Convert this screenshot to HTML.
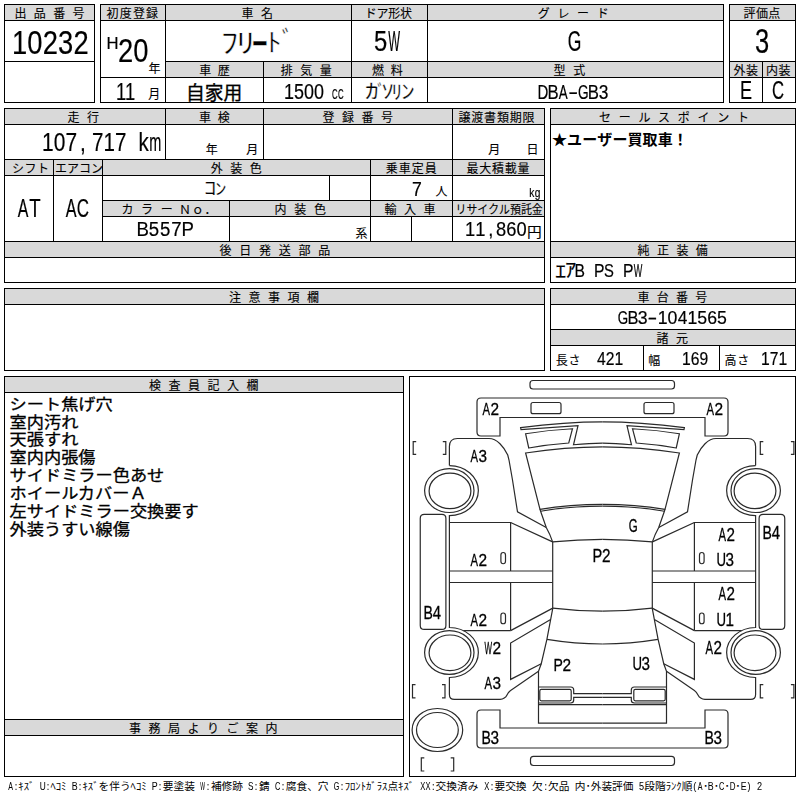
<!DOCTYPE html>
<html lang="ja"><head><meta charset="utf-8"><title>Auction sheet</title>
<style>
html,body{margin:0;padding:0;background:#fff}
body{width:800px;height:800px;position:relative;overflow:hidden;font-family:"Liberation Sans",sans-serif;color:#000}
svg.bg{position:absolute;left:0;top:0}
.t{position:absolute;white-space:nowrap;transform-origin:0 0;display:flex;filter:grayscale(1)}
.t i{font-style:normal;display:flex;justify-content:center;flex:none}
</style></head><body>
<svg class="bg" width="800" height="800" viewBox="0 0 800 800">
<g shape-rendering="crispEdges">
<rect x="5" y="5" width="89" height="15" fill="#d9d9d9"/>
<rect x="4" y="4" width="91" height="1"/>
<rect x="4" y="102" width="91" height="1"/>
<rect x="4" y="4" width="1" height="99"/>
<rect x="94" y="4" width="1" height="99"/>
<rect x="4" y="20" width="91" height="1"/>
<rect x="4" y="61" width="91" height="1"/>
<rect x="101" y="5" width="622" height="15" fill="#d9d9d9"/>
<rect x="166" y="62" width="557" height="15" fill="#d9d9d9"/>
<rect x="100" y="4" width="624" height="1"/>
<rect x="100" y="102" width="624" height="1"/>
<rect x="100" y="4" width="1" height="99"/>
<rect x="723" y="4" width="1" height="99"/>
<rect x="100" y="20" width="624" height="1"/>
<rect x="165" y="61" width="559" height="1"/>
<rect x="100" y="77" width="624" height="1"/>
<rect x="165" y="4" width="1" height="99"/>
<rect x="351" y="4" width="1" height="99"/>
<rect x="427" y="4" width="1" height="99"/>
<rect x="263" y="61" width="1" height="42"/>
<rect x="730" y="5" width="65" height="15" fill="#d9d9d9"/>
<rect x="730" y="62" width="65" height="15" fill="#d9d9d9"/>
<rect x="729" y="4" width="67" height="1"/>
<rect x="729" y="102" width="67" height="1"/>
<rect x="729" y="4" width="1" height="99"/>
<rect x="795" y="4" width="1" height="99"/>
<rect x="729" y="20" width="67" height="1"/>
<rect x="729" y="61" width="67" height="1"/>
<rect x="729" y="77" width="67" height="1"/>
<rect x="762" y="61" width="1" height="42"/>
<rect x="5" y="109" width="539" height="15" fill="#d9d9d9"/>
<rect x="5" y="160" width="539" height="15" fill="#d9d9d9"/>
<rect x="103" y="201" width="441" height="15" fill="#d9d9d9"/>
<rect x="5" y="242" width="539" height="15" fill="#d9d9d9"/>
<rect x="4" y="108" width="541" height="1"/>
<rect x="4" y="282" width="541" height="1"/>
<rect x="4" y="108" width="1" height="175"/>
<rect x="544" y="108" width="1" height="175"/>
<rect x="4" y="124" width="541" height="1"/>
<rect x="4" y="159" width="541" height="1"/>
<rect x="4" y="175" width="541" height="1"/>
<rect x="102" y="200" width="443" height="1"/>
<rect x="102" y="216" width="443" height="1"/>
<rect x="4" y="241" width="541" height="1"/>
<rect x="4" y="257" width="541" height="1"/>
<rect x="165" y="108" width="1" height="52"/>
<rect x="263" y="108" width="1" height="52"/>
<rect x="452" y="108" width="1" height="134"/>
<rect x="53" y="159" width="1" height="83"/>
<rect x="102" y="159" width="1" height="83"/>
<rect x="370" y="159" width="1" height="83"/>
<rect x="329" y="175" width="1" height="26"/>
<rect x="229" y="200" width="1" height="42"/>
<rect x="411" y="216" width="1" height="26"/>
<rect x="551" y="109" width="244" height="15" fill="#d9d9d9"/>
<rect x="551" y="242" width="244" height="15" fill="#d9d9d9"/>
<rect x="550" y="108" width="246" height="1"/>
<rect x="550" y="282" width="246" height="1"/>
<rect x="550" y="108" width="1" height="175"/>
<rect x="795" y="108" width="1" height="175"/>
<rect x="550" y="124" width="246" height="1"/>
<rect x="550" y="241" width="246" height="1"/>
<rect x="550" y="257" width="246" height="1"/>
<rect x="5" y="289" width="539" height="15" fill="#d9d9d9"/>
<rect x="4" y="288" width="541" height="1"/>
<rect x="4" y="370" width="541" height="1"/>
<rect x="4" y="288" width="1" height="83"/>
<rect x="544" y="288" width="1" height="83"/>
<rect x="4" y="304" width="541" height="1"/>
<rect x="551" y="289" width="244" height="15" fill="#d9d9d9"/>
<rect x="551" y="330" width="244" height="15" fill="#d9d9d9"/>
<rect x="550" y="288" width="246" height="1"/>
<rect x="550" y="370" width="246" height="1"/>
<rect x="550" y="288" width="1" height="83"/>
<rect x="795" y="288" width="1" height="83"/>
<rect x="550" y="304" width="246" height="1"/>
<rect x="550" y="329" width="246" height="1"/>
<rect x="550" y="345" width="246" height="1"/>
<rect x="643" y="345" width="1" height="26"/>
<rect x="719" y="345" width="1" height="26"/>
<rect x="5" y="377" width="398" height="15" fill="#d9d9d9"/>
<rect x="5" y="720" width="398" height="15" fill="#d9d9d9"/>
<rect x="4" y="376" width="400" height="1"/>
<rect x="4" y="776" width="400" height="1"/>
<rect x="4" y="376" width="1" height="401"/>
<rect x="403" y="376" width="1" height="401"/>
<rect x="4" y="392" width="400" height="1"/>
<rect x="4" y="719" width="400" height="1"/>
<rect x="4" y="735" width="400" height="1"/>
<rect x="409" y="376" width="387" height="1"/>
<rect x="409" y="776" width="387" height="1"/>
<rect x="409" y="376" width="1" height="401"/>
<rect x="795" y="376" width="1" height="401"/>
</g>
<g font-family="&quot;Liberation Sans&quot;, &quot;Noto Sans CJK JP&quot;, sans-serif" fill="#000">
<g font-size="12" stroke="#000" stroke-width="0.1">
<text x="14.5 33.83 53.16 72.49" y="17.56">出品番号</text>
<text x="106.5 119.7 132.9 146.1" y="17.56">初度登録</text>
<text x="241.5 261" y="17.56">車名</text>
<text x="364.7 376.5 388.3 400.1" y="17.56">ドア形状</text>
<text x="537.7 557.4 577.1 596.8" y="17.56">グレード</text>
<text x="743.5 755.9 768.3" y="17.56">評価点</text>
<text x="199.2 217.7" y="74.56">車歴</text>
<text x="280.75 300.25 319.75" y="74.56">排気量</text>
<text x="372 390.75" y="74.56">燃料</text>
<text x="553.5 573.2" y="74.56">型式</text>
<text x="733.5 746" y="74.56">外装</text>
<text x="766 778.5" y="74.56">内装</text>
<text x="67.5 87" y="121.56">走行</text>
<text x="199 217.7" y="121.56">車検</text>
<text x="322.5 342 361.5 381" y="121.56">登録番号</text>
<text x="458.5 471.3 484.1 496.9 509.7 522.5" y="121.56">譲渡書類期限</text>
<text x="599 618.7 638.4 658.1 677.8 697.5 717.2 736.9" y="121.56">セールスポイント</text>
<text x="12 24.5 37" y="172.56">シフト</text>
<text x="55 67 79 91" y="172.56">エアコン</text>
<text x="210.75 230.25 249.75" y="172.56">外装色</text>
<text x="385.75 398.75 411.75 424.75" y="172.56">乗車定員</text>
<text x="466.5 479.25 492 504.75 517.5" y="172.56">最大積載量</text>
<text x="121.4 141.1 160.8" y="213.56">カラー</text>
<text x="179 191.7 204.4" y="213.56">Ｎｏ．</text>
<text x="274.5 294.2 313.9" y="213.56">内装色</text>
<text x="384.5 404 423.5" y="213.56">輸入車</text>
<text transform="translate(455.5 213.56) scale(0.91 1)" x="0 11.978 23.956 35.934 47.912 59.89 71.868 83.846" y="0">リサイクル預託金</text>
<text x="219.5 239.25 259 278.75 298.5 318.25" y="254.56">後日発送部品</text>
<text x="637.6 657 676.4 695.8" y="254.56">純正装備</text>
<text x="229 248.5 268 287.5 307" y="301.56">注意事項欄</text>
<text x="637.6 656.8 676 695.2" y="301.56">車台番号</text>
<text x="656.5 676" y="342.56">諸元</text>
<text x="149 168.5 188 207.5 227 246.5" y="389.56">検査員記入欄</text>
<text x="129 148.5 168 187.5 207 226.5 246 265.5" y="732.56">事務局よりご案内</text>
<text x="148.5" y="73.36">年</text>
<text transform="translate(148.3 98.4) scale(1 1.08)" x="0" y="0">月</text>
<text x="205.75" y="154.06">年</text>
<text x="246.3" y="153.86">月</text>
<text x="488.3" y="153.86">月</text>
<text x="526.5" y="153.86">日</text>
<text x="435.5" y="196.06">人</text>
<text x="355.5" y="237.56">系</text>
<text x="555.7 568.4" y="364.86">長さ</text>
<text x="648.25" y="364.86">幅</text>
<text x="724.5 737.2" y="364.86">高さ</text>
</g>
<g stroke="#fff">
<text transform="translate(220.51 52.90) scale(1.2905 1)" font-size="27.95" stroke-width="0.45">ﾌ</text>
<text transform="translate(235.23 52.94) scale(1.5397 1)" font-size="27.2" stroke-width="0.38">ﾘ</text>
<text transform="translate(251.26 62.25) scale(0.6631 1)" font-size="51.2" stroke-width="0.61">ｰ</text>
<text transform="translate(266.09 52.25) scale(1.2477 1)" font-size="25.68" stroke-width="0.44">ﾄ</text>
<text transform="translate(281.52 51.84) scale(0.8974 1)" font-size="28.16" stroke-width="0.54">ﾞ</text>
<text transform="translate(364.95 99.39) scale(1.3827 1)" font-size="20.25" stroke-width="0.2">ｶ</text>
<text transform="translate(377.21 100.39) scale(0.7018 1)" font-size="20.69" stroke-width="0.29">ﾞ</text>
<text transform="translate(381.41 98.89) scale(1.2272 1)" font-size="19.98" stroke-width="0.22">ｿ</text>
<text transform="translate(391.31 98.68) scale(1.1616 1)" font-size="19.56" stroke-width="0.23">ﾘ</text>
<text transform="translate(400.93 99.31) scale(1.4082 1)" font-size="19.82" stroke-width="0.2">ﾝ</text>
<text transform="translate(203.83 195.45) scale(1.351 1)" font-size="19.03" stroke-width="0.21">ｺ</text>
<text transform="translate(214.92 194.91) scale(1.4323 1)" font-size="16.26" stroke-width="0.21">ﾝ</text>
</g>
<text x="186 204.75 223.5" y="99.5" font-size="18.75" stroke="#000" stroke-width="0.36">自家用</text>
<text transform="translate(527.05 236.75) scale(1.0666 1)" font-size="13.81" stroke="#000" stroke-width="0.15">円</text>
<text x="552 567.1 582.2 597.3 612.4 627.5 642.6 657.7 672.8" y="144.5" font-size="15" font-weight="bold">★ユーザー買取車！</text>
<text transform="translate(555.17 277.62) scale(1.222 1)" font-size="17.79" stroke="#000" stroke-width="0.18">ｴ</text>
<text transform="translate(564.96 277.25) scale(1.1814 1)" font-size="18.96" stroke="#000" stroke-width="0.19">ｱ</text>
<g font-size="15.4" stroke="#000" stroke-width="0.3">
<text transform="translate(9.6 409.65) scale(1.1169 1)">シート焦げ穴</text>
<text transform="translate(9.6 427.53) scale(1.1169 1)">室内汚れ</text>
<text transform="translate(9.6 445.41) scale(1.1169 1)">天張すれ</text>
<text transform="translate(9.6 463.29) scale(1.1169 1)">室内内張傷</text>
<text transform="translate(9.6 481.17) scale(1.1169 1)">サイドミラー色あせ</text>
<text transform="translate(9.6 499.05) scale(1.1169 1)">ホイールカバーＡ</text>
<text transform="translate(9.6 516.93) scale(1.1169 1)">左サイドミラー交換要す</text>
<text transform="translate(9.6 534.81) scale(1.1169 1)">外装うすい線傷</text>
</g>
<g font-size="10.7">
<text x="18.3" y="790.02">ｷｽﾞ</text>
<text x="50.4" y="790.02">ﾍｺﾐ</text>
<text x="82.5" y="790.02">ｷｽﾞを伴うﾍｺﾐ</text>
<text x="162.75" y="790.02">要塗装</text>
<text x="210.9" y="790.02">補修跡</text>
<text x="259.05" y="790.02">錆</text>
<text x="285.8" y="790.02">腐食、穴</text>
<text x="344.65" y="790.02">ﾌﾛﾝﾄｶﾞﾗｽ点ｷｽﾞ</text>
<text x="435.6" y="790.02">交換済み</text>
<text x="494.45" y="790.02">要交換</text>
<text x="531.9" y="790.02">欠</text>
<text x="547.95" y="790.02">欠品</text>
<text x="574.7" y="790.02">内･外装評価</text>
<text x="644.25" y="790.02">段階ﾗﾝｸ順</text>
<text x="703.1" y="790.02">･</text>
<text x="713.8" y="790.02">･</text>
<text x="724.5" y="790.02">･</text>
<text x="735.2" y="790.02">･</text>
</g>
</g>
<g fill="none" stroke="#2a2a2a" stroke-width="1.2"><rect x="530" y="380.5" width="144.5" height="8.5" rx="3"/><rect x="530.5" y="756.3" width="144" height="9.2" rx="3"/><path d="M481 398H724Q728 398 728 402V432Q728 436 724 436H705V417.5H500V436H481Q477 436 477 432V402Q477 398 481 398Z"/><rect x="531" y="402.5" width="30" height="11.2" rx="2"/><rect x="644" y="402.5" width="30" height="11.2" rx="2"/><path d="M477 714Q477 710 481 710H500V728H705V710H724Q728 710 728 714V744Q728 748 724 748H481Q477 748 477 744Z"/><path d="M602.5 421.9Q565 421.9 520.6 427.6L521 429.7L578 425.6L573.5 444.75Q590 443.1 602.5 443.1"/><path d="M602.5 421.9Q565 421.9 520.6 427.6L521 429.7L578 425.6L573.5 444.75Q590 443.1 602.5 443.1" transform="translate(1205.0 0) scale(-1 1)"/><path d="M525.6 433.75Q548 430 572.5 428.75L568.75 443Q548 444.5 528.75 448Z"/><path d="M525.6 433.75Q548 430 572.5 428.75L568.75 443Q548 444.5 528.75 448Z" transform="translate(1205.0 0) scale(-1 1)"/><path d="M602.5 446.9Q565 446.9 525.6 453L540 509.4Q570 504.4 602.5 504.4"/><path d="M602.5 446.9Q565 446.9 525.6 453L540 509.4Q570 504.4 602.5 504.4" transform="translate(1205.0 0) scale(-1 1)"/><path d="M540.6 511.25Q570 506.1 602.5 506.1"/><path d="M540.6 511.25Q570 506.1 602.5 506.1" transform="translate(1205.0 0) scale(-1 1)"/><path d="M540 509.4L540.6 511.25L546.25 527.5Q550 534 552.6 541.9"/><path d="M540 509.4L540.6 511.25L546.25 527.5Q550 534 552.6 541.9" transform="translate(1205.0 0) scale(-1 1)"/><path d="M552.6 541.9Q578 539.3 602.5 539.3"/><path d="M552.6 541.9Q578 539.3 602.5 539.3" transform="translate(1205.0 0) scale(-1 1)"/><path d="M552.7 541.9V608.1"/><path d="M552.7 541.9V608.1" transform="translate(1205.0 0) scale(-1 1)"/><path d="M552.8 608.1Q578 611.2 602.5 611.2"/><path d="M552.8 608.1Q578 611.2 602.5 611.2" transform="translate(1205.0 0) scale(-1 1)"/><path d="M552.8 608.1L546.9 639.4L541.25 663.75L538.5 671.25V723.1H602.5"/><path d="M552.8 608.1L546.9 639.4L541.25 663.75L538.5 671.25V723.1H602.5" transform="translate(1205.0 0) scale(-1 1)"/><path d="M546.9 639.4Q575 644 602.5 644"/><path d="M546.9 639.4Q575 644 602.5 644" transform="translate(1205.0 0) scale(-1 1)"/><path d="M538.5 687H570.7Q573.7 687 573.7 690V693.7H602.5M538.5 703H570.7Q573.7 703 573.7 700V697.3H602.5M538.5 704.7H602.5"/><path d="M538.5 687H570.7Q573.7 687 573.7 690V693.7H602.5M538.5 703H570.7Q573.7 703 573.7 700V697.3H602.5M538.5 704.7H602.5" transform="translate(1205.0 0) scale(-1 1)"/><path d="M541.3 689.4H569.7Q571.2 689.4 571.2 690.9V699.3Q571.2 700.8 569.7 700.8H541.3Q539.8 700.8 539.8 699.3V690.9Q539.8 689.4 541.3 689.4Z"/><path d="M541.3 689.4H569.7Q571.2 689.4 571.2 690.9V699.3Q571.2 700.8 569.7 700.8H541.3Q539.8 700.8 539.8 699.3V690.9Q539.8 689.4 541.3 689.4Z" transform="translate(1205.0 0) scale(-1 1)"/><path d="M449.4 465.6V446.5Q449.4 438.5 457.4 438.5H489C497 438.5 504 447 507.75 455L509 460L512.5 480L517.5 511.9L546.25 527.5"/><path d="M449.4 465.6V446.5Q449.4 438.5 457.4 438.5H489C497 438.5 504 447 507.75 455L509 460L512.5 480L517.5 511.9L546.25 527.5" transform="translate(1205.0 0) scale(-1 1)"/><path d="M449.4 465.6A29 25 0 0 1 449.4 515.6V627.5A29 25 0 0 1 449.4 677.5V694.4Q449.4 699.4 454.4 699.4H500Q505 699 507 695Q508.5 692 510.6 690.6L538.5 671.25"/><path d="M449.4 465.6A29 25 0 0 1 449.4 515.6V627.5A29 25 0 0 1 449.4 677.5V694.4Q449.4 699.4 454.4 699.4H500Q505 699 507 695Q508.5 692 510.6 690.6L538.5 671.25" transform="translate(1205.0 0) scale(-1 1)"/><path d="M474 490.6A24.7 21.9 0 1 1 424.6 490.6A24.7 21.9 0 1 1 474 490.6Z"/><path d="M474 490.6A24.7 21.9 0 1 1 424.6 490.6A24.7 21.9 0 1 1 474 490.6Z" transform="translate(1205.0 0) scale(-1 1)"/><path d="M470.9 490.9A20.9 17.8 0 1 1 429.1 490.9A20.9 17.8 0 1 1 470.9 490.9Z"/><path d="M470.9 490.9A20.9 17.8 0 1 1 429.1 490.9A20.9 17.8 0 1 1 470.9 490.9Z" transform="translate(1205.0 0) scale(-1 1)"/><path d="M474 652.5A24.7 21.9 0 1 1 424.6 652.5A24.7 21.9 0 1 1 474 652.5Z"/><path d="M474 652.5A24.7 21.9 0 1 1 424.6 652.5A24.7 21.9 0 1 1 474 652.5Z" transform="translate(1205.0 0) scale(-1 1)"/><path d="M470.9 652.8A20.9 17.8 0 1 1 429.1 652.8A20.9 17.8 0 1 1 470.9 652.8Z"/><path d="M470.9 652.8A20.9 17.8 0 1 1 429.1 652.8A20.9 17.8 0 1 1 470.9 652.8Z" transform="translate(1205.0 0) scale(-1 1)"/><path d="M424.25 514.4H441.9Q445.9 514.4 445.9 518.4V625.4Q445.9 629.4 441.9 629.4H424.25Q420.25 629.4 420.25 625.4V518.4Q420.25 514.4 424.25 514.4Z"/><path d="M424.25 514.4H441.9Q445.9 514.4 445.9 518.4V625.4Q445.9 629.4 441.9 629.4H424.25Q420.25 629.4 420.25 625.4V518.4Q420.25 514.4 424.25 514.4Z" transform="translate(1205.0 0) scale(-1 1)"/><path d="M449.4 522.5H510.6V571M449.4 571H552.7M449.4 582.5H552.7M510.6 582.5V630.6M463.4 630.6H510.6"/><path d="M449.4 522.5H510.6V571M449.4 571H552.7M449.4 582.5H552.7M510.6 582.5V630.6M463.4 630.6H510.6" transform="translate(1205.0 0) scale(-1 1)"/><path d="M510.6 522.5L552.6 541.9M510.6 630.6L552.8 608.1"/><path d="M510.6 522.5L552.6 541.9M510.6 630.6L552.8 608.1" transform="translate(1205.0 0) scale(-1 1)"/><path d="M550.6 619.4L510.6 643.1V679.4L541.25 663.75"/><path d="M550.6 619.4L510.6 643.1V679.4L541.25 663.75" transform="translate(1205.0 0) scale(-1 1)"/><path d="M503.2 552.5Q505.5 552.5 505.5 555V561.3Q505.5 563.75 503.2 563.75Q500.9 563.75 500.9 561.3V555Q500.9 552.5 503.2 552.5Z"/><path d="M503.2 552.5Q505.5 552.5 505.5 555V561.3Q505.5 563.75 503.2 563.75Q500.9 563.75 500.9 561.3V555Q500.9 552.5 503.2 552.5Z" transform="translate(1205.0 0) scale(-1 1)"/><path d="M503.2 613Q505.5 613 505.5 615.4V621.4Q505.5 623.75 503.2 623.75Q500.9 623.75 500.9 621.4V615.4Q500.9 613 503.2 613Z"/><path d="M503.2 613Q505.5 613 505.5 615.4V621.4Q505.5 623.75 503.2 623.75Q500.9 623.75 500.9 621.4V615.4Q500.9 613 503.2 613Z" transform="translate(1205.0 0) scale(-1 1)"/><ellipse cx="437.4" cy="730" rx="25.3" ry="21.5"/><ellipse cx="437.4" cy="730" rx="20.9" ry="17.5"/><path d="M416.2 441.6H413.2V454.4H416.2M442.8 441.6H445.8V454.4H442.8"/><path d="M763.3 441.6H760.3V454.4H763.3M790.9 441.6H793.9V454.4H790.9"/><path d="M415.5 684.7H412.5V697.8H415.5M442 684.7H445V697.8H442"/><path d="M763.3 684.7H760.3V697.8H763.3M790.9 684.7H793.9V697.8H790.9"/><path d="M424.3 757.8H421.3V771H424.3M450.7 757.8H453.7V771H450.7"/></g>
</svg>
<div class="t" style="left:11.70px;top:27.00px;font-size:32.75px;line-height:32.75px;letter-spacing:0.17px;-webkit-text-stroke:0.2px #000;transform:scaleX(0.8349)">10232</div>
<div class="t" style="left:106.70px;top:36.00px;font-size:15.75px;line-height:15.75px;-webkit-text-stroke:0.2px #000;transform:scaleX(1.0561)"><i style="width:10.42px">H</i></div>
<div class="t" style="left:118.10px;top:35.00px;font-size:32.75px;line-height:32.75px;letter-spacing:0.17px;-webkit-text-stroke:0.2px #000;transform:scaleX(0.8349)">20</div>
<div class="t" style="left:115.79px;top:80.00px;font-size:24.50px;line-height:24.50px;letter-spacing:0.04px;-webkit-text-stroke:0.2px #000;transform:scaleX(0.7499)">11</div>
<div class="t" style="left:284.21px;top:82.00px;font-size:21.50px;line-height:21.50px;letter-spacing:0.03px;-webkit-text-stroke:0.2px #000;transform:scaleX(0.8340)">1500</div>
<div class="t" style="left:332.00px;top:88.00px;font-size:13.75px;line-height:13.75px;-webkit-text-stroke:0.2px #000;transform:scaleX(0.7370)"><i style="width:7.60px;transform:scaleX(0.768)">C</i><i style="width:7.60px;transform:scaleX(0.768)">C</i></div>
<div class="t" style="left:373.75px;top:26.00px;font-size:30.00px;line-height:30.00px;-webkit-text-stroke:0.2px #000;transform:scaleX(0.7923)"><i style="width:16.79px">5</i><i style="width:16.79px;transform:scaleX(0.526)">W</i></div>
<div class="t" style="left:567.70px;top:27.00px;font-size:29.00px;line-height:29.00px;-webkit-text-stroke:0.2px #000;transform:scaleX(0.8437)"><i style="width:15.41px;transform:scaleX(0.716)">G</i></div>
<div class="t" style="left:537.75px;top:82.00px;font-size:20.75px;line-height:20.75px;-webkit-text-stroke:0.2px #000;transform:scaleX(0.8365)"><i style="width:12.07px;transform:scaleX(0.865)">D</i><i style="width:12.07px;transform:scaleX(0.962)">B</i><i style="width:12.07px;transform:scaleX(0.772)">A</i><i style="width:12.07px;transform:scaleX(1.716)">-</i><i style="width:12.07px;transform:scaleX(0.784)">G</i><i style="width:12.07px;transform:scaleX(0.962)">B</i><i style="width:12.07px">3</i></div>
<div class="t" style="left:755.41px;top:24.00px;font-size:34.75px;line-height:34.75px;letter-spacing:1.11px;-webkit-text-stroke:0.2px #000;transform:scaleX(0.7340)">3</div>
<div class="t" style="left:740.20px;top:78.00px;font-size:25.75px;line-height:25.75px;-webkit-text-stroke:0.2px #000;transform:scaleX(0.7033)"><i style="width:17.06px">E</i></div>
<div class="t" style="left:772.00px;top:78.00px;font-size:25.75px;line-height:25.75px;-webkit-text-stroke:0.2px #000;transform:scaleX(0.7861)"><i style="width:15.27px;transform:scaleX(0.824)">C</i></div>
<div class="t" style="left:42.25px;top:130.00px;font-size:25.00px;line-height:25.00px;-webkit-text-stroke:0.2px #000;transform:scaleX(0.8364)"><i style="width:13.99px">1</i><i style="width:13.99px">0</i><i style="width:13.99px">7</i><i style="width:13.99px">,</i></div>
<div class="t" style="left:92.00px;top:130.00px;font-size:25.00px;line-height:25.00px;-webkit-text-stroke:0.2px #000;transform:scaleX(0.8221)"><i style="width:13.99px">7</i><i style="width:13.99px">1</i><i style="width:13.99px">7</i><i style="width:13.99px">&nbsp;</i><i style="width:13.99px">k</i><i style="width:13.99px;transform:scaleX(0.703)">m</i></div>
<div class="t" style="left:17.00px;top:196.00px;font-size:25.25px;line-height:25.25px;-webkit-text-stroke:0.2px #000;transform:scaleX(0.8462)"><i style="width:14.18px;transform:scaleX(0.745)">A</i><i style="width:14.18px;transform:scaleX(0.874)">T</i></div>
<div class="t" style="left:65.10px;top:196.00px;font-size:25.25px;line-height:25.25px;-webkit-text-stroke:0.2px #000;transform:scaleX(0.8462)"><i style="width:14.42px;transform:scaleX(0.758)">A</i><i style="width:14.42px;transform:scaleX(0.793)">C</i></div>
<div class="t" style="left:412.19px;top:179.00px;font-size:20.00px;line-height:20.00px;letter-spacing:0.20px;-webkit-text-stroke:0.2px #000;transform:scaleX(0.8830)">7</div>
<div class="t" style="left:528.75px;top:186.00px;font-size:13.25px;line-height:13.25px;-webkit-text-stroke:0.2px #000;transform:scaleX(0.7687)"><i style="width:7.42px">k</i><i style="width:7.42px">g</i></div>
<div class="t" style="left:136.88px;top:219.00px;font-size:20.25px;line-height:20.25px;-webkit-text-stroke:0.2px #000;transform:scaleX(0.9197)"><i style="width:12.23px;transform:scaleX(0.999)">B</i><i style="width:12.23px">5</i><i style="width:12.23px">5</i><i style="width:12.23px">7</i><i style="width:12.23px;transform:scaleX(0.999)">P</i></div>
<div class="t" style="left:465.15px;top:219.00px;font-size:20.25px;line-height:20.25px;-webkit-text-stroke:0.2px #000;transform:scaleX(0.9043)"><i style="width:11.39px">1</i><i style="width:11.39px">1</i><i style="width:11.39px">,</i><i style="width:11.39px">8</i><i style="width:11.39px">6</i><i style="width:11.39px">0</i></div>
<div class="t" style="left:575.06px;top:263.00px;font-size:17.75px;line-height:17.75px;-webkit-text-stroke:0.2px #000;transform:scaleX(0.8817)"><i style="width:10.97px">B</i><i style="width:10.97px">&nbsp;</i><i style="width:10.97px">P</i><i style="width:10.97px;transform:scaleX(0.945)">S</i><i style="width:10.97px">&nbsp;</i><i style="width:10.97px">P</i><i style="width:10.97px;transform:scaleX(0.581)">W</i></div>
<div class="t" style="left:617.64px;top:308.00px;font-size:19.25px;line-height:19.25px;-webkit-text-stroke:0.2px #000;transform:scaleX(0.9191)"><i style="width:10.79px;transform:scaleX(0.756)">G</i><i style="width:10.79px;transform:scaleX(0.927)">B</i><i style="width:10.79px">3</i><i style="width:10.79px;transform:scaleX(1.654)">-</i><i style="width:10.79px">1</i><i style="width:10.79px">0</i><i style="width:10.79px;transform:scaleX(0.979)">4</i><i style="width:10.79px">1</i><i style="width:10.79px">5</i><i style="width:10.79px">6</i><i style="width:10.79px">5</i></div>
<div class="t" style="left:596.64px;top:350.00px;font-size:18.50px;line-height:18.50px;letter-spacing:-0.03px;-webkit-text-stroke:0.2px #000;transform:scaleX(0.8478)">421</div>
<div class="t" style="left:681.94px;top:350.00px;font-size:18.50px;line-height:18.50px;letter-spacing:-0.03px;-webkit-text-stroke:0.2px #000;transform:scaleX(0.8478)">169</div>
<div class="t" style="left:760.64px;top:350.00px;font-size:18.50px;line-height:18.50px;letter-spacing:0.03px;-webkit-text-stroke:0.2px #000;transform:scaleX(0.8478)">171</div>
<div class="t" style="left:7.60px;top:782.00px;font-size:10.25px;line-height:10.25px;-webkit-text-stroke:0.05px #000;transform:scaleX(0.8895)"><i style="width:6.01px;transform:scaleX(0.779)">A</i><i style="width:6.01px">:</i></div>
<div class="t" style="left:39.70px;top:782.00px;font-size:10.25px;line-height:10.25px;-webkit-text-stroke:0.05px #000;transform:scaleX(0.8895)"><i style="width:6.01px;transform:scaleX(0.909)">U</i><i style="width:6.01px">:</i></div>
<div class="t" style="left:71.80px;top:782.00px;font-size:10.25px;line-height:10.25px;-webkit-text-stroke:0.05px #000;transform:scaleX(0.8895)"><i style="width:6.01px;transform:scaleX(0.970)">B</i><i style="width:6.01px">:</i></div>
<div class="t" style="left:152.05px;top:782.00px;font-size:10.25px;line-height:10.25px;-webkit-text-stroke:0.05px #000;transform:scaleX(0.8895)"><i style="width:6.01px;transform:scaleX(0.970)">P</i><i style="width:6.01px">:</i></div>
<div class="t" style="left:200.20px;top:782.00px;font-size:10.25px;line-height:10.25px;-webkit-text-stroke:0.05px #000;transform:scaleX(0.8895)"><i style="width:6.01px;transform:scaleX(0.552)">W</i><i style="width:6.01px">:</i></div>
<div class="t" style="left:248.35px;top:782.00px;font-size:10.25px;line-height:10.25px;-webkit-text-stroke:0.05px #000;transform:scaleX(0.8895)"><i style="width:6.01px;transform:scaleX(0.897)">S</i><i style="width:6.01px">:</i></div>
<div class="t" style="left:275.10px;top:782.00px;font-size:10.25px;line-height:10.25px;-webkit-text-stroke:0.05px #000;transform:scaleX(0.8895)"><i style="width:6.01px;transform:scaleX(0.815)">C</i><i style="width:6.01px">:</i></div>
<div class="t" style="left:333.95px;top:782.00px;font-size:10.25px;line-height:10.25px;-webkit-text-stroke:0.05px #000;transform:scaleX(0.8895)"><i style="width:6.01px;transform:scaleX(0.791)">G</i><i style="width:6.01px">:</i></div>
<div class="t" style="left:419.55px;top:782.00px;font-size:10.25px;line-height:10.25px;-webkit-text-stroke:0.05px #000;transform:scaleX(0.8895)"><i style="width:6.01px;transform:scaleX(0.828)">X</i><i style="width:6.01px;transform:scaleX(0.828)">X</i><i style="width:6.01px">:</i></div>
<div class="t" style="left:483.75px;top:782.00px;font-size:10.25px;line-height:10.25px;-webkit-text-stroke:0.05px #000;transform:scaleX(0.8895)"><i style="width:6.01px;transform:scaleX(0.828)">X</i><i style="width:6.01px">:</i></div>
<div class="t" style="left:542.60px;top:782.00px;font-size:10.25px;line-height:10.25px;-webkit-text-stroke:0.05px #000;transform:scaleX(0.8895)"><i style="width:6.01px">:</i></div>
<div class="t" style="left:639.04px;top:782.00px;font-size:10.25px;line-height:10.25px;letter-spacing:0.31px;-webkit-text-stroke:0.05px #000;transform:scaleX(0.8895)">5</div>
<div class="t" style="left:692.40px;top:782.00px;font-size:10.25px;line-height:10.25px;-webkit-text-stroke:0.05px #000;transform:scaleX(0.8895)"><i style="width:6.01px">(</i><i style="width:6.01px;transform:scaleX(0.779)">A</i></div>
<div class="t" style="left:708.45px;top:782.00px;font-size:10.25px;line-height:10.25px;-webkit-text-stroke:0.05px #000;transform:scaleX(0.8895)"><i style="width:6.01px;transform:scaleX(0.970)">B</i></div>
<div class="t" style="left:719.15px;top:782.00px;font-size:10.25px;line-height:10.25px;-webkit-text-stroke:0.05px #000;transform:scaleX(0.8895)"><i style="width:6.01px;transform:scaleX(0.815)">C</i></div>
<div class="t" style="left:729.85px;top:782.00px;font-size:10.25px;line-height:10.25px;-webkit-text-stroke:0.05px #000;transform:scaleX(0.8895)"><i style="width:6.01px;transform:scaleX(0.872)">D</i></div>
<div class="t" style="left:740.55px;top:782.00px;font-size:10.25px;line-height:10.25px;-webkit-text-stroke:0.05px #000;transform:scaleX(0.8895)"><i style="width:6.01px;transform:scaleX(0.953)">E</i><i style="width:6.01px">)</i></div>
<div class="t" style="left:756.74px;top:782.00px;font-size:10.25px;line-height:10.25px;letter-spacing:0.31px;-webkit-text-stroke:0.05px #000;transform:scaleX(0.8895)">2</div>
<div class="t" style="left:481.75px;top:402.00px;font-size:16.75px;line-height:16.75px;-webkit-text-stroke:0.3px #000;transform:scaleX(0.9165)"><i style="width:9.27px;transform:scaleX(0.735)">A</i><i style="width:9.27px">2</i></div>
<div class="t" style="left:705.75px;top:401.00px;font-size:17.25px;line-height:17.25px;-webkit-text-stroke:0.3px #000;transform:scaleX(0.8936)"><i style="width:9.51px;transform:scaleX(0.732)">A</i><i style="width:9.51px">2</i></div>
<div class="t" style="left:469.65px;top:448.00px;font-size:17.00px;line-height:17.00px;-webkit-text-stroke:0.3px #000;transform:scaleX(0.9011)"><i style="width:9.43px;transform:scaleX(0.736)">A</i><i style="width:9.43px">3</i></div>
<div class="t" style="left:628.85px;top:518.00px;font-size:17.75px;line-height:17.75px;-webkit-text-stroke:0.3px #000;transform:scaleX(0.8579)"><i style="width:9.91px;transform:scaleX(0.752)">G</i></div>
<div class="t" style="left:593.30px;top:547.00px;font-size:18.00px;line-height:18.00px;-webkit-text-stroke:0.3px #000;transform:scaleX(0.8511)"><i style="width:10.34px;transform:scaleX(0.950)">P</i><i style="width:10.34px">2</i></div>
<div class="t" style="left:469.65px;top:552.00px;font-size:17.00px;line-height:17.00px;-webkit-text-stroke:0.3px #000;transform:scaleX(0.9049)"><i style="width:9.39px;transform:scaleX(0.733)">A</i><i style="width:9.39px">2</i></div>
<div class="t" style="left:718.25px;top:527.00px;font-size:17.75px;line-height:17.75px;-webkit-text-stroke:0.3px #000;transform:scaleX(0.8579)"><i style="width:9.91px;transform:scaleX(0.741)">A</i><i style="width:9.91px">2</i></div>
<div class="t" style="left:717.25px;top:552.00px;font-size:17.75px;line-height:17.75px;-webkit-text-stroke:0.3px #000;transform:scaleX(0.8579)"><i style="width:9.91px;transform:scaleX(0.865)">U</i><i style="width:9.91px">3</i></div>
<div class="t" style="left:762.50px;top:525.00px;font-size:17.75px;line-height:17.75px;-webkit-text-stroke:0.3px #000;transform:scaleX(0.8579)"><i style="width:9.91px;transform:scaleX(0.923)">B</i><i style="width:9.91px;transform:scaleX(0.975)">4</i></div>
<div class="t" style="left:424.35px;top:605.00px;font-size:17.75px;line-height:17.75px;-webkit-text-stroke:0.3px #000;transform:scaleX(0.8579)"><i style="width:9.91px;transform:scaleX(0.923)">B</i><i style="width:9.91px;transform:scaleX(0.975)">4</i></div>
<div class="t" style="left:469.65px;top:612.00px;font-size:17.00px;line-height:17.00px;-webkit-text-stroke:0.3px #000;transform:scaleX(0.9049)"><i style="width:9.39px;transform:scaleX(0.733)">A</i><i style="width:9.39px">2</i></div>
<div class="t" style="left:718.25px;top:586.00px;font-size:17.75px;line-height:17.75px;-webkit-text-stroke:0.3px #000;transform:scaleX(0.8579)"><i style="width:9.91px;transform:scaleX(0.741)">A</i><i style="width:9.91px">2</i></div>
<div class="t" style="left:717.25px;top:612.00px;font-size:17.75px;line-height:17.75px;-webkit-text-stroke:0.3px #000;transform:scaleX(0.8579)"><i style="width:9.91px;transform:scaleX(0.865)">U</i><i style="width:9.91px">1</i></div>
<div class="t" style="left:483.50px;top:640.00px;font-size:17.00px;line-height:17.00px;-webkit-text-stroke:0.3px #000;transform:scaleX(0.9049)"><i style="width:9.39px;transform:scaleX(0.519)">W</i><i style="width:9.39px">2</i></div>
<div class="t" style="left:704.50px;top:640.00px;font-size:17.75px;line-height:17.75px;-webkit-text-stroke:0.3px #000;transform:scaleX(0.8579)"><i style="width:9.91px;transform:scaleX(0.741)">A</i><i style="width:9.91px">2</i></div>
<div class="t" style="left:554.25px;top:657.00px;font-size:17.00px;line-height:17.00px;-webkit-text-stroke:0.3px #000;transform:scaleX(0.9049)"><i style="width:9.39px;transform:scaleX(0.914)">P</i><i style="width:9.39px">2</i></div>
<div class="t" style="left:632.50px;top:656.00px;font-size:17.75px;line-height:17.75px;-webkit-text-stroke:0.3px #000;transform:scaleX(0.8579)"><i style="width:9.91px;transform:scaleX(0.865)">U</i><i style="width:9.91px">3</i></div>
<div class="t" style="left:483.75px;top:675.00px;font-size:16.25px;line-height:16.25px;-webkit-text-stroke:0.3px #000;transform:scaleX(0.9406)"><i style="width:9.04px;transform:scaleX(0.738)">A</i><i style="width:9.04px">3</i></div>
<div class="t" style="left:481.95px;top:730.00px;font-size:17.50px;line-height:17.50px;-webkit-text-stroke:0.3px #000;transform:scaleX(0.8754)"><i style="width:9.71px;transform:scaleX(0.917)">B</i><i style="width:9.71px">3</i></div>
<div class="t" style="left:704.50px;top:730.00px;font-size:17.75px;line-height:17.75px;-webkit-text-stroke:0.3px #000;transform:scaleX(0.8579)"><i style="width:9.91px;transform:scaleX(0.923)">B</i><i style="width:9.91px">3</i></div>
</body></html>
